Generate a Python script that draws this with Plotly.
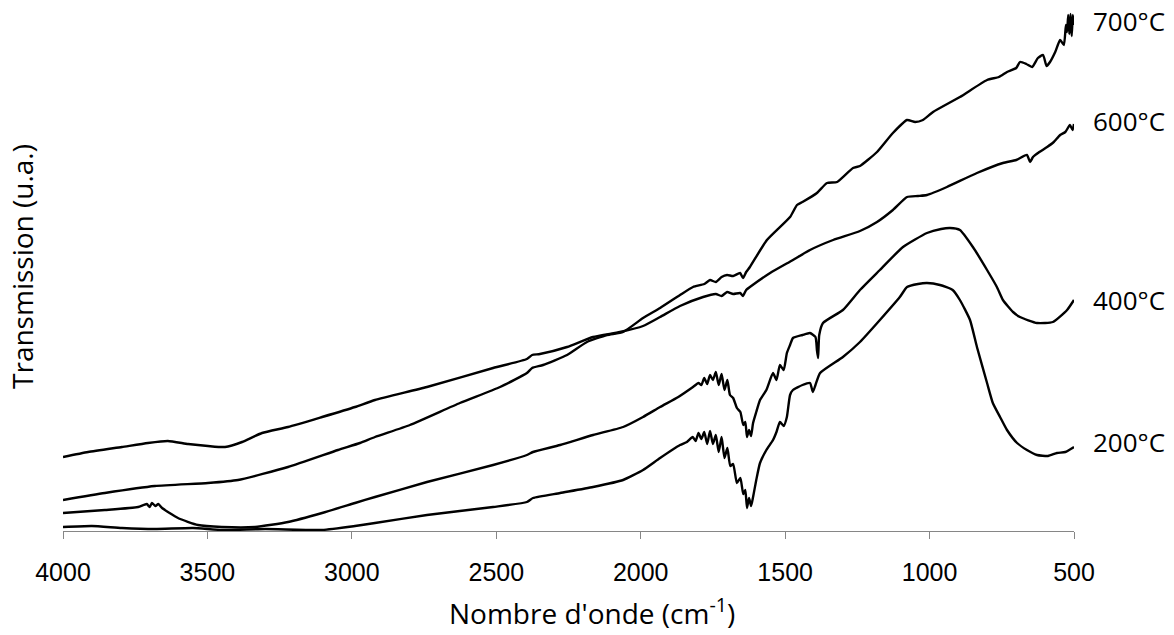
import plotly.graph_objects as go

# FTIR spectra of the calcined samples (transmission, arbitrary units)
wn_700 = [4000, 3855, 3682, 3498, 3394, 3221, 3048, 2972, 2920, 2799, 2626, 2487, 2394, 2376, 2338,
          2255, 2186, 2117, 2061, 1992, 1933, 1864, 1819, 1780, 1760, 1740, 1720, 1701, 1680, 1656,
          1646, 1635, 1622, 1563, 1483, 1459, 1440, 1390, 1355, 1320, 1265, 1241, 1182, 1127, 1078,
          1050, 1023, 988, 895, 801, 760, 732, 700, 687, 665, 645, 625, 607, 595, 583, 565, 548,
          535, 528, 524, 520, 516, 512, 508, 504, 500]
t_700 = [30, 37, 44, 47, 50, 63, 80, 87, 93, 105, 127, 143, 157, 162, 165,
         175, 188, 195, 198, 212, 222, 235, 243, 246, 250, 248, 253, 255, 254, 257,
         252, 258, 263, 290, 313, 325, 328, 337, 347, 348, 362, 364, 378, 397, 410,
         408, 410, 418, 433, 450, 453, 458, 462, 468, 466, 463, 472, 475, 464, 468, 478, 490,
         485, 505, 498, 515, 496, 516, 494, 515, 505]

wn_600 = [4000, 3913, 3796, 3706, 3637, 3567, 3498, 3439, 3380, 3311, 3221, 3103, 2989, 2920, 2740,
          2511, 2394, 2376, 2349, 2255, 2165, 2072, 1992, 1933, 1864, 1784, 1740, 1720, 1701, 1680,
          1656, 1646, 1635, 1622, 1552, 1473, 1414, 1334, 1241, 1182, 1127, 1078, 1040, 1009, 940,
          836, 746, 700, 663, 652, 642, 620, 593, 570, 548, 530, 514, 505, 500]
t_600 = [73, 78, 83, 87, 89, 86, 84, 83, 88, 97, 103, 113, 123, 130, 143,
         162, 171, 175, 176, 183, 193, 198, 204, 213, 224, 233, 236, 234, 238, 236,
         237, 234, 240, 243, 257, 270, 280, 290, 299, 308, 320, 333, 334, 335, 343,
         357, 367, 370, 375, 368, 373, 378, 383, 388, 395, 398, 405, 400, 406]

wn_400 = [4000, 3855, 3740, 3710, 3700, 3692, 3680, 3670, 3657, 3602, 3533, 3450, 3335, 3221, 3103,
          2989, 2920, 2740, 2511, 2394, 2373, 2279, 2165, 2061, 1992, 1933, 1870, 1819, 1800, 1790,
          1780, 1770, 1760, 1750, 1740, 1730, 1720, 1710, 1700, 1691, 1680, 1667, 1655, 1645, 1638,
          1632, 1625, 1618, 1611, 1600, 1587, 1565, 1542, 1530, 1518, 1505, 1494, 1483, 1473, 1440,
          1414, 1395, 1390, 1386, 1382, 1369, 1300, 1241, 1172, 1092, 1009, 960, 929, 895, 850,
          801, 767, 746, 711, 687, 628, 573, 524, 500]
t_400 = [17, 20, 23, 26, 23, 27, 24, 26, 22, 12, 5, 3, 3, 8, 17,
         27, 33, 48, 65, 75, 78, 85, 95, 103, 113, 123, 133, 143, 147, 145,
         152, 146, 155, 150, 158, 145, 156, 140, 150, 135, 132, 122, 118, 105, 108,
         93, 100, 94, 107, 118, 130, 140, 157, 150, 165, 160, 177, 185, 192, 195,
         197, 193, 180, 172, 195, 207, 220, 240, 260, 283, 297, 301, 302, 300, 283,
         260, 243, 230, 218, 213, 207, 208, 220, 230]

wn_200 = [4000, 3900, 3796, 3682, 3550, 3450, 3300, 3103, 2989, 2920, 2740, 2511, 2394, 2373, 2279,
          2165, 2061, 1992, 1933, 1864, 1840, 1820, 1810, 1800, 1790, 1780, 1770, 1760, 1750, 1740,
          1730, 1720, 1710, 1700, 1690, 1680, 1667, 1655, 1645, 1638, 1632, 1625, 1618, 1611, 1600,
          1587, 1565, 1542, 1530, 1518, 1505, 1494, 1483, 1473, 1440, 1414, 1404, 1395, 1379, 1300,
          1241, 1172, 1103, 1078, 1040, 1009, 964, 920, 895, 860, 836, 801, 781, 756, 732, 697,
          663, 628, 590, 559, 530, 500]
t_200 = [3, 4, 2, 1, 2, 0, 1, 0, 4, 7, 15, 23, 28, 32, 37,
         43, 50, 60, 72, 85, 88, 93, 89, 97, 91, 98, 86, 99, 86, 95,
         78, 93, 72, 82, 64, 66, 47, 52, 36, 40, 22, 32, 24, 33, 50,
         67, 80, 90, 98, 108, 104, 113, 135, 140, 145, 147, 138, 145, 157, 173,
         188, 210, 233, 243, 246, 247, 245, 240, 230, 210, 183, 147, 127, 113, 100, 87,
         80, 75, 74, 77, 78, 83]

x_ticks = [4000, 3500, 3000, 2500, 2000, 1500, 1000, 500]

series = [("700°C", wn_700, t_700, 509),
          ("600°C", wn_600, t_600, 409),
          ("400°C", wn_400, t_400, 230),
          ("200°C", wn_200, t_200, 88)]

TEXT_FONT = "Open Sans"
TICK_FONT = "Liberation Sans"

fig = go.Figure()
for name, wn, t, _ in series:
    fig.add_trace(go.Scatter(x=wn, y=t, mode="lines", name=name, showlegend=False,
                             line=dict(color="black", width=2.4, shape="spline", smoothing=0.5)))

annotations = [dict(xref="paper", x=1, xanchor="left", xshift=17, yref="y", y=ly,
                    text=name, showarrow=False,
                    font=dict(family=TEXT_FONT, size=26, color="black"))
               for name, _, _, ly in series]

# axis titles
annotations.append(dict(xref="paper", yref="paper", x=0.523, y=-0.1536,
                        xanchor="center", yanchor="middle", showarrow=False,
                        text="Nombre d'onde (cm<sup>-1</sup>)",
                        font=dict(family=TEXT_FONT, size=28, color="black")))
annotations.append(dict(xref="paper", yref="paper", x=-0.0406, y=0.5086,
                        xanchor="center", yanchor="middle", showarrow=False, textangle=-90,
                        text="Transmission (u.a.)",
                        font=dict(family=TEXT_FONT, size=28, color="black")))

fig.update_layout(
    width=1174, height=635,
    margin=dict(l=63, r=100, t=10, b=104),
    paper_bgcolor="white", plot_bgcolor="white",
    annotations=annotations,
    xaxis=dict(range=[4000, 500], tickvals=x_ticks,
               ticks="outside", ticklen=7, tickcolor="#868686", tickwidth=1,
               showline=True, linecolor="#868686", linewidth=1,
               showgrid=False, zeroline=False, ticklabelstandoff=12,
               tickfont=dict(family=TICK_FONT, size=25, color="black")),
    yaxis=dict(range=[-1, 520], showticklabels=False, showgrid=False, zeroline=False,
               showline=False, ticks=""),
)

fig.write_html("out.html")
